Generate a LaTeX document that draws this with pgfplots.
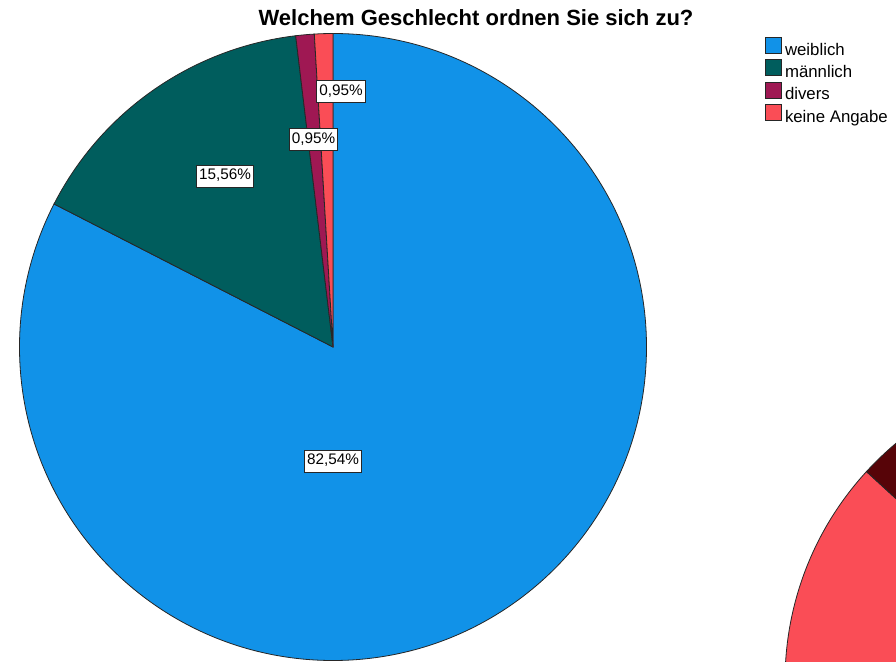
\documentclass[border=0pt]{standalone}
\usepackage{pgfplots}
\pgfplotsset{compat=1.18}
\usepackage{fontspec}
\setmainfont{Liberation Sans}

\definecolor{weib}{HTML}{1192E8}
\definecolor{maen}{HTML}{005D5D}
\definecolor{divers}{HTML}{9F1853}
\definecolor{keine}{HTML}{FA4D56}
\definecolor{dunkel}{HTML}{570408}
\definecolor{rand}{HTML}{262626}

\begin{document}
\begin{tikzpicture}
% Anteile in Prozent (Uhrzeigersinn ab 12 Uhr)
\pgfmathsetmacro\aW{90}
\pgfmathsetmacro\aM{\aW-3.6*82.54}
\pgfmathsetmacro\aD{\aM-3.6*15.56}
\pgfmathsetmacro\aK{\aD-3.6*0.95}
\pgfmathsetmacro\aE{\aK-3.6*0.95}
\def\R{313.5}
\begin{axis}[
    x=1pt, y=1pt,
    xmin=0, xmax=896, ymin=-661, ymax=0,
    hide axis,
    clip=true,
    legend style={at={(765/896,1-37/661)}, anchor=north west,
                  draw=none, fill=none, inner sep=0pt,
                  font=\fontsize{16.8}{19}\selectfont,
                  row sep=2.5pt,
                  nodes={inner xsep=3pt, inner ysep=0pt}},
    legend cell align=left,
]
\addlegendimage{legend image code/.code={\filldraw[fill=weib,draw=rand,line width=0.8pt](0pt,-3.5pt) rectangle (16pt,12.5pt);}}
\addlegendentry{weiblich}
\addlegendimage{legend image code/.code={\filldraw[fill=maen,draw=rand,line width=0.8pt](0pt,-3.5pt) rectangle (16pt,12.5pt);}}
\addlegendentry{männlich}
\addlegendimage{legend image code/.code={\filldraw[fill=divers,draw=rand,line width=0.8pt](0pt,-3.5pt) rectangle (16pt,12.5pt);}}
\addlegendentry{divers}
\addlegendimage{legend image code/.code={\filldraw[fill=keine,draw=rand,line width=0.8pt](0pt,-3.5pt) rectangle (16pt,12.5pt);}}
\addlegendentry{keine Angabe}

% zweites Diagramm, angeschnitten
\filldraw[fill=keine, draw=rand, line width=0.8pt] (axis cs:1095,-681) -- ++(137.5:310pt) arc[start angle=137.5, end angle=270, radius=310pt] -- cycle;
\filldraw[fill=dunkel, draw=rand, line width=0.8pt] (axis cs:1095,-681) -- ++(60:310pt) arc[start angle=60, end angle=137.5, radius=310pt] -- cycle;

% Hauptdiagramm
\filldraw[fill=weib, draw=rand, line width=0.8pt] (axis cs:333,-347) -- ++(\aW:\R pt) arc[start angle=\aW, end angle=\aM, radius=\R pt] -- cycle;
\filldraw[fill=maen, draw=rand, line width=0.8pt] (axis cs:333,-347) -- ++(\aM:\R pt) arc[start angle=\aM, end angle=\aD, radius=\R pt] -- cycle;
\filldraw[fill=divers, draw=rand, line width=0.8pt] (axis cs:333,-347) -- ++(\aD:\R pt) arc[start angle=\aD, end angle=\aK, radius=\R pt] -- cycle;
\filldraw[fill=keine, draw=rand, line width=0.8pt] (axis cs:333,-347) -- ++(\aK:\R pt) arc[start angle=\aK, end angle=\aE, radius=\R pt] -- cycle;

\tikzset{lab/.style={draw=rand, fill=white, line width=0.8pt, inner xsep=2.5pt, inner ysep=4pt,
    text height=11pt, text depth=3pt, font=\fontsize{15.3}{18}\selectfont}}
\node[lab] at (axis cs:333,-461) {82,54\%};
\node[lab] at (axis cs:225,-176) {15,56\%};
\node[lab] at (axis cs:313.5,-139.5) {0,95\%};
\node[lab] at (axis cs:341,-91.5) {0,95\%};

\node[anchor=base, font=\bfseries\fontsize{22}{26}\selectfont] at (axis cs:476,-26) {Welchem Geschlecht ordnen Sie sich zu?};
\end{axis}
\pgfresetboundingbox
\path (current axis.south west) rectangle (current axis.north east);
\end{tikzpicture}
\end{document}
